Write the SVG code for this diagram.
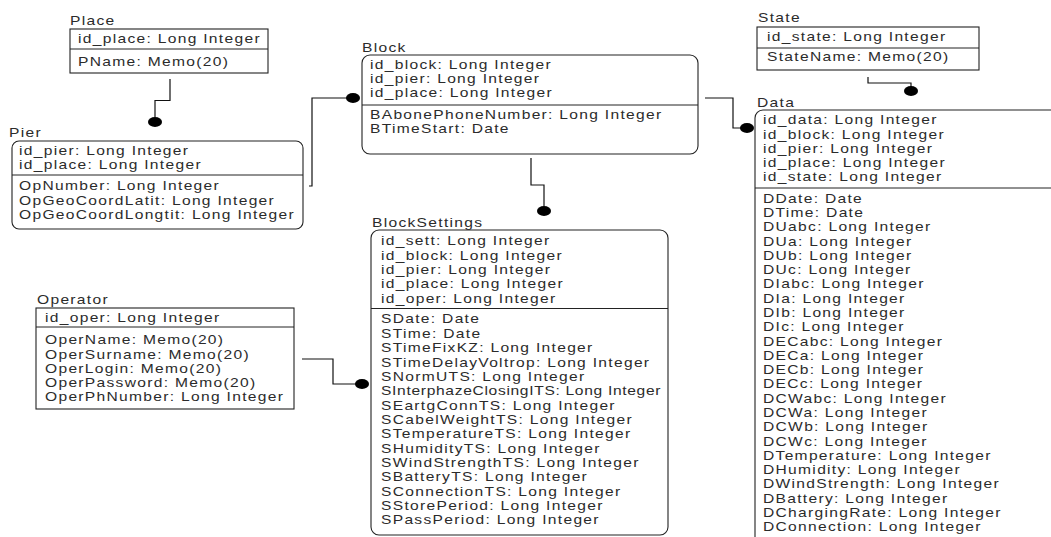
<svg xmlns="http://www.w3.org/2000/svg" width="1051" height="537" viewBox="0 0 1051 537">
  <style>
    .box{fill:#fff;stroke:#222;stroke-width:1.1}
    .sep{stroke:#222;stroke-width:1}
    text{font-family:"Liberation Sans",Arial,sans-serif;font-size:12px;fill:#2b2b2b;letter-spacing:1px}
    .wire{fill:none;stroke:#111;stroke-width:1.2}
    .dot{fill:#000}
  </style>
  <rect width="1051" height="537" fill="#fff"/>

  <!-- relationship lines with filled "many" ends -->
  <g id="connectors">
    <path class="wire" d="M170,79 V100.5 H155 V117"/>
    <ellipse class="dot" cx="155" cy="122" rx="7" ry="5"/>
    <path class="wire" d="M309,186 H312 V98 H350"/>
    <ellipse class="dot" cx="353" cy="98" rx="7" ry="5"/>
    <path class="wire" d="M531,158 V185 H544 V206"/>
    <ellipse class="dot" cx="544" cy="211" rx="7" ry="5"/>
    <path class="wire" d="M705,98 H733 V128 H744"/>
    <ellipse class="dot" cx="747" cy="128" rx="7" ry="5"/>
    <path class="wire" d="M868,77 V83 H911 V88"/>
    <ellipse class="dot" cx="911" cy="91" rx="7" ry="5"/>
    <path class="wire" d="M302,359 H333 V384 H358"/>
    <ellipse class="dot" cx="362" cy="384" rx="7" ry="5"/>
  </g>

  <g id="place">
    <rect class="box" x="70" y="29" width="198" height="44"/>
    <line class="sep" x1="70" y1="49" x2="268" y2="49"/>
    <g transform="translate(70,0) scale(1.3,1)"><text y="25">Place</text></g>
    <g transform="translate(78,0) scale(1.3,1)">
      <text y="43">id_place: Long Integer</text>
      <text y="66">PName: Memo(20)</text>
    </g>
  </g>

  <g id="pier">
    <rect class="box" x="12" y="141" width="291" height="88" rx="7"/>
    <line class="sep" x1="12" y1="175" x2="303" y2="175"/>
    <g transform="translate(9,0) scale(1.3,1)"><text y="137.5">Pier</text></g>
    <g transform="translate(19,0) scale(1.3,1)">
      <text y="155">id_pier: Long Integer</text>
      <text y="169.5">id_place: Long Integer</text>
      <text y="190.5">OpNumber: Long Integer</text>
      <text y="205">OpGeoCoordLatit: Long Integer</text>
      <text y="219">OpGeoCoordLongtit: Long Integer</text>
    </g>
  </g>

  <g id="block">
    <rect class="box" x="362" y="55" width="336" height="99" rx="8"/>
    <line class="sep" x1="362" y1="105" x2="698" y2="105"/>
    <g transform="translate(362,0) scale(1.3,1)"><text y="52.5">Block</text></g>
    <g transform="translate(370,0) scale(1.3,1)">
      <text y="69.5">id_block: Long Integer</text>
      <text y="83.5">id_pier: Long Integer</text>
      <text y="97.5">id_place: Long Integer</text>
      <text y="119.5">BAbonePhoneNumber: Long Integer</text>
      <text y="133.5">BTimeStart: Date</text>
    </g>
  </g>

  <g id="state">
    <rect class="box" x="757" y="27" width="222" height="43"/>
    <line class="sep" x1="757" y1="48" x2="979" y2="48"/>
    <g transform="translate(758,0) scale(1.3,1)"><text y="22.5">State</text></g>
    <g transform="translate(767,0) scale(1.3,1)">
      <text y="41.5">id_state: Long Integer</text>
      <text y="61.5">StateName: Memo(20)</text>
    </g>
  </g>

  <g id="data">
    <rect class="box" x="755" y="110" width="320" height="450" rx="8"/>
    <line class="sep" x1="755" y1="188" x2="1075" y2="188"/>
    <g transform="translate(757,0) scale(1.3,1)"><text y="107.5">Data</text></g>
    <g transform="translate(763,0) scale(1.3,1)">
      <text y="124.5">id_data: Long Integer</text>
      <text y="138.7">id_block: Long Integer</text>
      <text y="152.9">id_pier: Long Integer</text>
      <text y="167.1">id_place: Long Integer</text>
      <text y="181.3">id_state: Long Integer</text>
      <text y="202.8">DDate: Date</text>
      <text y="217.1">DTime: Date</text>
      <text y="231.4">DUabc: Long Integer</text>
      <text y="245.6">DUa: Long Integer</text>
      <text y="259.9">DUb: Long Integer</text>
      <text y="274.2">DUc: Long Integer</text>
      <text y="288.5">DIabc: Long Integer</text>
      <text y="302.8">DIa: Long Integer</text>
      <text y="317.0">DIb: Long Integer</text>
      <text y="331.3">DIc: Long Integer</text>
      <text y="345.6">DECabc: Long Integer</text>
      <text y="359.9">DECa: Long Integer</text>
      <text y="374.2">DECb: Long Integer</text>
      <text y="388.4">DECc: Long Integer</text>
      <text y="402.7">DCWabc: Long Integer</text>
      <text y="417.0">DCWa: Long Integer</text>
      <text y="431.3">DCWb: Long Integer</text>
      <text y="445.6">DCWc: Long Integer</text>
      <text y="459.8">DTemperature: Long Integer</text>
      <text y="474.1">DHumidity: Long Integer</text>
      <text y="488.4">DWindStrength: Long Integer</text>
      <text y="502.7">DBattery: Long Integer</text>
      <text y="517.0">DChargingRate: Long Integer</text>
      <text y="531.2">DConnection: Long Integer</text>
    </g>
  </g>

  <g id="blocksettings">
    <rect class="box" x="371" y="230" width="297" height="305" rx="8"/>
    <line class="sep" x1="371" y1="308.5" x2="668" y2="308.5"/>
    <g transform="translate(372,0) scale(1.3,1)"><text y="227.5">BlockSettings</text></g>
    <g transform="translate(381,0) scale(1.3,1)">
      <text y="245.2">id_sett: Long Integer</text>
      <text y="259.6">id_block: Long Integer</text>
      <text y="274.0">id_pier: Long Integer</text>
      <text y="288.4">id_place: Long Integer</text>
      <text y="302.8">id_oper: Long Integer</text>
      <text y="323.5">SDate: Date</text>
      <text y="337.9">STime: Date</text>
      <text y="352.2">STimeFixKZ: Long Integer</text>
      <text y="366.6">STimeDelayVoltrop: Long Integer</text>
      <text y="380.9">SNormUTS: Long Integer</text>
      <text y="395.3" textLength="216">SInterphazeClosingITS: Long Integer</text>
      <text y="409.7">SEartgConnTS: Long Integer</text>
      <text y="424.0">SCabelWeightTS: Long Integer</text>
      <text y="438.4">STemperatureTS: Long Integer</text>
      <text y="452.7">SHumidityTS: Long Integer</text>
      <text y="467.1">SWindStrengthTS: Long Integer</text>
      <text y="481.5">SBatteryTS: Long Integer</text>
      <text y="495.8">SConnectionTS: Long Integer</text>
      <text y="510.2">SStorePeriod: Long Integer</text>
      <text y="524.5">SPassPeriod: Long Integer</text>
    </g>
  </g>

  <g id="operator">
    <rect class="box" x="36" y="308" width="258" height="101"/>
    <line class="sep" x1="36" y1="327" x2="294" y2="327"/>
    <g transform="translate(37,0) scale(1.3,1)"><text y="304.5">Operator</text></g>
    <g transform="translate(45,0) scale(1.3,1)">
      <text y="322.5">id_oper: Long Integer</text>
      <text y="344.5">OperName: Memo(20)</text>
      <text y="358.7">OperSurname: Memo(20)</text>
      <text y="372.9">OperLogin: Memo(20)</text>
      <text y="387.1">OperPassword: Memo(20)</text>
      <text y="401.3">OperPhNumber: Long Integer</text>
    </g>
  </g>
</svg>
